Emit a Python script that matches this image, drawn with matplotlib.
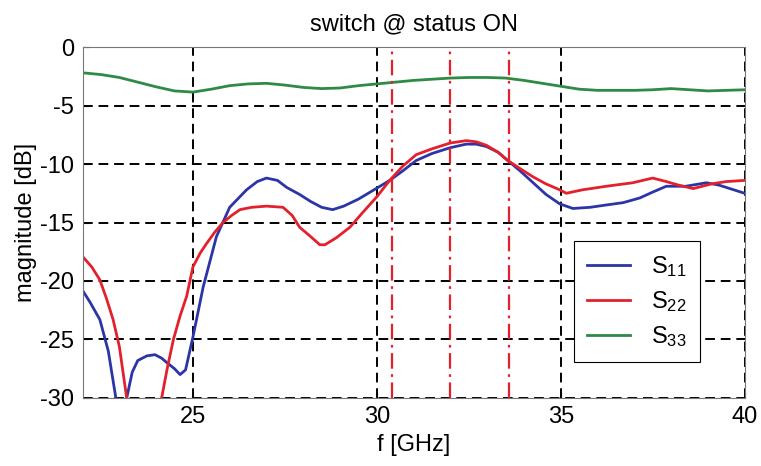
import matplotlib

matplotlib.use("Agg")

import matplotlib.pyplot as plt

plt.rcParams["font.family"] = ["Liberation Sans", "DejaVu Sans"]
plt.rcParams["mathtext.fontset"] = "custom"
plt.rcParams["mathtext.rm"] = "Liberation Sans"
plt.rcParams["mathtext.it"] = "Liberation Sans:italic"
plt.rcParams["axes.unicode_minus"] = False

# S11 (blue)
S11_FREQ = [22.0, 22.2, 22.47, 22.7, 22.9, 23.05, 23.2, 23.35, 23.5, 23.75, 23.97, 24.15,
            24.3, 24.5, 24.65, 24.8, 25.0, 25.28, 25.64, 26.0, 26.46, 26.75, 27.0, 27.3,
            27.55, 27.9, 28.2, 28.5, 28.8, 29.1, 29.5, 29.98, 30.35, 30.7, 31.07, 31.5,
            32.0, 32.43, 32.7, 32.98, 33.3, 33.56, 33.9, 34.25, 34.6, 34.97, 35.33, 35.8,
            36.24, 36.7, 37.15, 37.5, 37.87, 38.4, 38.96, 39.3, 39.6, 40.0]
S11_DB = [-20.8, -21.8, -23.3, -26.0, -29.9, -31.0, -30.0, -27.8, -26.8, -26.4, -26.3, -26.6,
          -27.0, -27.5, -28.0, -27.6, -24.8, -20.5, -16.2, -13.7, -12.2, -11.5, -11.2, -11.4,
          -12.0, -12.6, -13.2, -13.7, -13.9, -13.6, -13.0, -12.1, -11.4, -10.6, -9.7, -9.1,
          -8.6, -8.3, -8.3, -8.5, -9.0, -9.7, -10.6, -11.6, -12.6, -13.4, -13.8, -13.7,
          -13.5, -13.3, -12.9, -12.4, -11.9, -11.9, -11.6, -11.8, -12.1, -12.5]

# S22 (red)
S22_FREQ = [22.0, 22.25, 22.47, 22.65, 22.83, 23.0, 23.2, 23.4, 23.9, 24.15, 24.3, 24.47,
            24.65, 24.83, 25.0, 25.2, 25.37, 25.6, 25.82, 26.05, 26.28, 26.6, 27.0, 27.45,
            27.7, 27.9, 28.2, 28.45, 28.59, 28.9, 29.27, 29.6, 30.0, 30.35, 30.7, 31.07,
            31.5, 32.0, 32.43, 32.7, 32.98, 33.3, 33.56, 33.9, 34.25, 34.6, 34.97, 35.15,
            35.6, 36.24, 36.96, 37.5, 37.87, 38.2, 38.6, 39.1, 39.5, 40.0]
S22_DB = [-17.9, -18.8, -19.9, -21.5, -23.3, -25.6, -30.0, -33.0, -33.0, -30.0, -27.5, -25.0,
          -23.0, -21.3, -18.8, -17.6, -16.8, -15.8, -15.0, -14.4, -13.9, -13.7, -13.6, -13.7,
          -14.4, -15.4, -16.2, -16.9, -16.9, -16.3, -15.4, -14.2, -12.8, -11.4, -10.2, -9.2,
          -8.7, -8.2, -8.0, -8.1, -8.4, -9.0, -9.7, -10.4, -11.1, -11.7, -12.2, -12.5,
          -12.2, -11.9, -11.6, -11.2, -11.5, -11.8, -12.1, -11.7, -11.5, -11.4]

# S33 (green)
S33_FREQ = [22.0, 22.5, 23.0, 23.5, 24.0, 24.5, 25.0, 25.5, 26.0, 26.5, 27.0, 27.5, 28.0,
            28.5, 29.0, 29.5, 30.0, 30.5, 31.0, 31.5, 32.0, 32.5, 33.0, 33.5, 34.0, 34.5,
            35.0, 35.5, 36.0, 36.5, 37.0, 37.5, 38.0, 38.5, 39.0, 39.5, 40.0]
S33_DB = [-2.2, -2.35, -2.6, -3.0, -3.4, -3.75, -3.85, -3.6, -3.3, -3.15, -3.1, -3.25, -3.45,
          -3.55, -3.5, -3.3, -3.15, -3.0, -2.85, -2.75, -2.65, -2.6, -2.6, -2.65, -2.85, -3.1,
          -3.35, -3.6, -3.7, -3.7, -3.7, -3.65, -3.55, -3.65, -3.75, -3.7, -3.65]

MARKER_FREQS = [30.4, 32.0, 33.6]
X_TICKS = [25, 30, 35, 40]
Y_TICKS = [0, -5, -10, -15, -20, -25, -30]

FONT_SIZE = 17

figure = plt.figure(figsize=(7.61, 4.66), dpi=100)
axis = figure.add_axes([0.1085, 0.146, 0.870, 0.753])

axis.plot(S11_FREQ, S11_DB, color="#2b35a6", linewidth=2.0, label=r"S$_{\mathrm{11}}$")
axis.plot(S22_FREQ, S22_DB, color="#e3202c", linewidth=2.0, label=r"S$_{\mathrm{22}}$")
axis.plot(S33_FREQ, S33_DB, color="#2f8a45", linewidth=2.0, label=r"S$_{\mathrm{33}}$")

for marker_freq in MARKER_FREQS:
    axis.axvline(marker_freq, color="#e3202c", linewidth=1.6, linestyle=(0, (7, 2.5, 1.2, 2.5)))

axis.set_xlim(22, 40)
axis.set_ylim(-30, 0)
axis.set_xticks(X_TICKS)
axis.set_yticks(Y_TICKS)
axis.grid(True, color="black", linewidth=1.4, linestyle=(0, (5, 3)))
axis.tick_params(direction="in", length=4, labelsize=FONT_SIZE, pad=6)
for spine in axis.spines.values():
    spine.set_color("#777777")
    spine.set_linewidth(0.8)

axis.set_title("switch @ status ON", fontsize=FONT_SIZE, pad=12)
axis.set_xlabel("f [GHz]", fontsize=FONT_SIZE, labelpad=4)
axis.set_ylabel("magnitude [dB]", fontsize=FONT_SIZE, labelpad=2)

legend = axis.legend(
    loc="upper left",
    bbox_to_anchor=(0.743, 0.446),
    fontsize=FONT_SIZE,
    frameon=True,
    fancybox=False,
    handlelength=1.8,
    borderpad=0.55,
    labelspacing=0.42,
    handletextpad=0.9,
    borderaxespad=0,
)
legend.get_frame().set_edgecolor("black")
legend.get_frame().set_linewidth(0.8)
legend.get_frame().set_alpha(1)

figure.savefig("out.png", dpi=100)
plt.close(figure)
